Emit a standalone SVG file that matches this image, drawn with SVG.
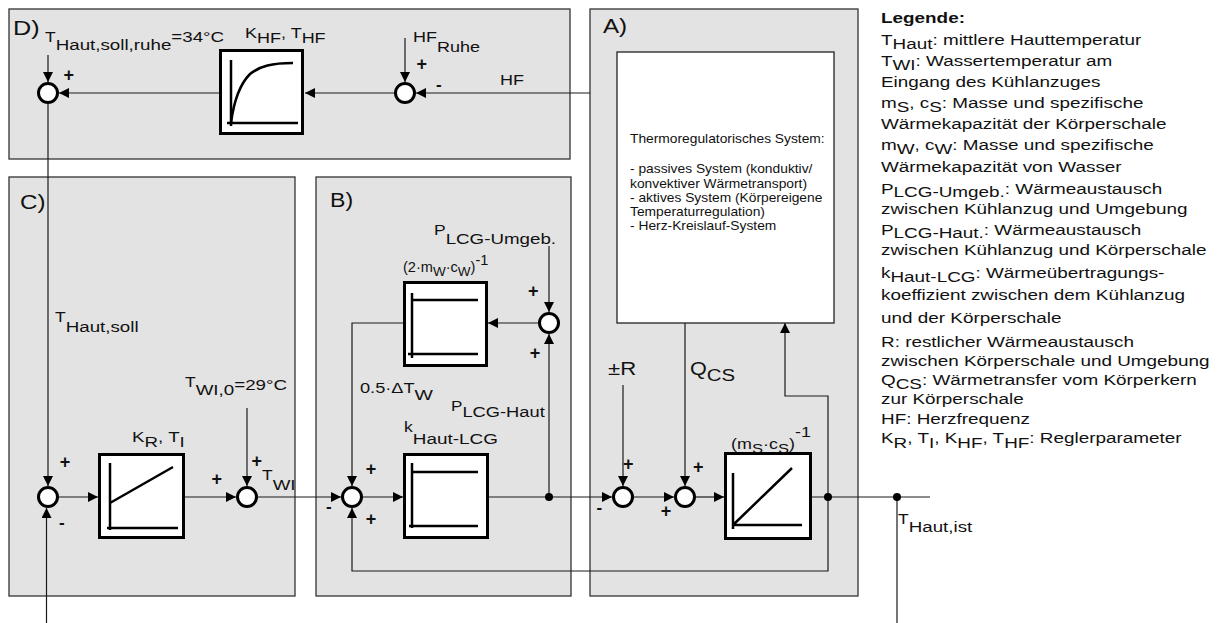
<svg xmlns="http://www.w3.org/2000/svg" width="1219" height="623" viewBox="0 0 1219 623">
<style>
text{font-family:"Liberation Sans",Arial,Helvetica,sans-serif;fill:#111}
.panel{fill:#e3e3e3;stroke:#333;stroke-width:1.3}
.inner{fill:#fff;stroke:#222;stroke-width:1.3}
.blk{fill:#fff;stroke:#000;stroke-width:3}
.gr{fill:none;stroke:#000;stroke-width:2.5}
.sum{fill:#fff;stroke:#000;stroke-width:3}
.ln{fill:none;stroke:#1a1a1a;stroke-width:1.2}
.ar{marker-end:url(#ah)}
.dot{fill:#000}
.pl{font-size:21px}
.lb{font-size:15px}
.big{font-size:18px}
.fr{font-size:14px}
.pm{font-size:18px;font-weight:bold}
.mn{font-size:17px;font-weight:bold}
.lg{font-size:15px}
.in{font-size:12px}
</style>
<defs>
<marker id="ah" markerUnits="userSpaceOnUse" markerWidth="10" markerHeight="10" refX="10" refY="5" orient="auto">
<path d="M0,0 L10,5 L0,10 z" fill="#000"/>
</marker>
</defs>
<rect width="1219" height="623" fill="#fff"/>

<g id="panelD">
<rect class="panel" x="9" y="9" width="561" height="150"/>
<text class="pl" transform="translate(13,35) scale(1.2,1)">D)</text>
</g>
<g id="panelA">
<rect class="panel" x="590" y="9" width="268" height="587"/>
<text class="pl" transform="translate(603,33) scale(1.15,1)">A)</text>
</g>
<g id="panelC">
<rect class="panel" x="9" y="177" width="286" height="419"/>
<text class="pl" transform="translate(20,209) scale(1.15,1)">C)</text>
</g>
<g id="panelB">
<rect class="panel" x="316" y="177" width="255" height="419"/>
<text class="pl" transform="translate(330,207) scale(1.1,1)">B)</text>
</g>

<g id="connectors">
<path class="ln ar" d="M48,55 V82"/>
<path class="ln ar" d="M219,93 H59"/>
<path class="ln ar" d="M395,93 H305"/>
<path class="ln ar" d="M405,38 V82"/>
<path class="ln ar" d="M590,93 H416"/>
<path class="ln ar" d="M48,104 V486"/>
<path class="ln ar" d="M59,497 H98"/>
<path class="ln ar" d="M185,497 H236"/>
<path class="ln ar" d="M247,408 V486"/>
<path class="ln ar" d="M258,497 H341"/>
<path class="ln ar" d="M46.5,623 V508"/>
<path class="ln ar" d="M363,497 H403"/>
<path class="ln ar" d="M489,497 H612"/>
<path class="ln ar" d="M549,497 V334"/>
<path class="ln ar" d="M549,246 V312"/>
<path class="ln ar" d="M538,323 H488"/>
<path class="ln ar" d="M403,323 H352 V486"/>
<path class="ln ar" d="M828,497 V571 H352 V508"/>
<path class="ln ar" d="M623,385 V486"/>
<path class="ln ar" d="M634,497 H674"/>
<path class="ln ar" d="M685,323 V486"/>
<path class="ln ar" d="M696,497 H724"/>
<path class="ln" d="M812,497 H930"/>
<path class="ln ar" d="M828,497 V396 H785 V323"/>
<path class="ln" d="M897,497 V623"/>
<circle class="dot" cx="549" cy="497" r="4"/>
<circle class="dot" cx="828" cy="497" r="4"/>
<circle class="dot" cx="897" cy="497" r="4"/>
</g>

<g id="sumD1">
<circle class="sum" cx="48" cy="93" r="9.5"/>
<text class="pm" x="63.4" y="80.5">+</text>
<text class="lb" transform="translate(45,42) scale(1.25,1)"><tspan font-size="14">T</tspan><tspan dy="8">Haut,soll,ruhe</tspan><tspan dy="-8">=34°C</tspan></text>
</g>
<g id="blockD">
<rect class="blk" x="220.5" y="50.5" width="82" height="83"/>
<path class="gr" d="M231,60 V126 M227,123 H298"/>
<path class="gr" d="M231,123 C234,100 240,84 250,74 C260,66 272,63 293,63"/>
<text class="lb" transform="translate(245,38) scale(1.2,1)">K<tspan dy="5">HF</tspan><tspan dy="-5">, T</tspan><tspan dy="5">HF</tspan></text>
</g>
<g id="sumD2">
<circle class="sum" cx="405" cy="93" r="9.5"/>
<text class="pm" x="416.4" y="69.9">+</text>
<text class="mn" x="436" y="89.6">-</text>
<text class="lb" transform="translate(413,42) scale(1.2,1)">HF<tspan dy="10">Ruhe</tspan></text>
<text class="lb" transform="translate(500,85) scale(1.2,1)">HF</text>
</g>

<g id="sumC1">
<circle class="sum" cx="48" cy="497" r="9.5"/>
<text class="pm" x="59.7" y="467.9">+</text>
<text class="mn" x="59" y="528">-</text>
<text class="lb" transform="translate(55,322) scale(1.25,1)"><tspan font-size="14">T</tspan><tspan dy="10">Haut,soll</tspan></text>
</g>
<g id="blockKR">
<rect class="blk" x="99.5" y="454.5" width="84" height="83"/>
<path class="gr" d="M110,463 V530 M107,528 H178 M110,503 L173,467"/>
<text class="lb" transform="translate(132,442) scale(1.25,1)">K<tspan dy="5">R</tspan><tspan dy="-5">, T</tspan><tspan dy="5">I</tspan></text>
</g>
<g id="sumC2">
<circle class="sum" cx="247" cy="497" r="9.5"/>
<text class="pm" x="211.4" y="484.9">+</text>
<text class="pm" x="251.4" y="466.5">+</text>
<text class="lb" transform="translate(262,480) scale(1.25,1)"><tspan font-size="14">T</tspan><tspan dy="10">WI</tspan></text>
<text class="lb" transform="translate(185,387) scale(1.25,1)"><tspan font-size="14">T</tspan><tspan dy="8">WI,0</tspan><tspan dy="-5">=29°C</tspan></text>
</g>

<g id="sumB1">
<circle class="sum" cx="352" cy="497" r="9.5"/>
<text class="pm" x="365.7" y="474.9">+</text>
<text class="mn" x="326" y="512">-</text>
<text class="pm" x="365.7" y="524.9">+</text>
</g>
<g id="blockK">
<rect class="blk" x="404.5" y="454.5" width="83" height="83"/>
<path class="gr" d="M412,463 V528 M412,472 H478 M409,526 H478"/>
<text class="lb" transform="translate(404,432) scale(1.26,1)"><tspan font-size="14">k</tspan><tspan dy="12">Haut-LCG</tspan></text>
<text class="lb" transform="translate(451,411) scale(1.22,1)"><tspan font-size="14">P</tspan><tspan dy="6">LCG-Haut</tspan></text>
</g>
<g id="sumB2">
<circle class="sum" cx="549" cy="323" r="9.5"/>
<text class="pm" x="528" y="296.5">+</text>
<text class="pm" x="529.7" y="359.2">+</text>
<text class="lb" transform="translate(434,235) scale(1.25,1)"><tspan font-size="14">P</tspan><tspan dy="9">LCG-Umgeb.</tspan></text>
</g>
<g id="blockW">
<rect class="blk" x="404.5" y="282.5" width="82" height="83"/>
<path class="gr" d="M412,293 V358 M412,300 H478 M408,354 H478"/>
<text class="fr" transform="translate(403,272) scale(1.04,1)">(2·m<tspan font-size="13" dy="4">W</tspan><tspan dy="-4">·c</tspan><tspan font-size="13" dy="4">W</tspan><tspan dy="-4">)</tspan><tspan dy="-7">-1</tspan></text>
<text class="lb" transform="translate(360,393) scale(1.3,1)"><tspan font-size="14">0.5·ΔT</tspan><tspan dy="7">W</tspan></text>
</g>

<g id="blockA">
<rect class="inner" x="617" y="52" width="217" height="271"/>
<g transform="translate(630,0) scale(1.15,1)">
<text class="in" x="0" y="143">Thermoregulatorisches System:</text>
<text class="in" x="0" y="173.3">- passives System (konduktiv/</text>
<text class="in" x="0" y="187.7">konvektiver Wärmetransport)</text>
<text class="in" x="0" y="201.7">- aktives System (Körpereigene</text>
<text class="in" x="0" y="215.7">Temperaturregulation)</text>
<text class="in" x="0" y="230">- Herz-Kreislauf-System</text>
</g>
</g>
<g id="sumA1">
<circle class="sum" cx="623" cy="497" r="9.5"/>
<text class="pm" x="623" y="469.9">+</text>
<text class="mn" x="596.5" y="513">-</text>
<text class="big" transform="translate(608,375) scale(1.23,1)">±R</text>
</g>
<g id="sumA2">
<circle class="sum" cx="685" cy="497" r="9.5"/>
<text class="pm" x="693" y="473.2">+</text>
<text class="pm" x="660.7" y="516.5">+</text>
<text class="big" transform="translate(690,375) scale(1.2,1)">Q<tspan font-size="17" dy="6">CS</tspan></text>
</g>
<g id="blockMS">
<rect class="blk" x="725.5" y="453.5" width="85" height="85"/>
<path class="gr" d="M733,473 V529 M733,525 H802 M733,525 L792,468"/>
<text class="fr" transform="translate(731,449) scale(1.28,1)">(m<tspan font-size="13" dy="4">S</tspan><tspan dy="-4">·c</tspan><tspan font-size="13" dy="4">S</tspan><tspan dy="-4">)</tspan><tspan dy="-12">-1</tspan></text>
</g>
<g id="output">
<text class="lb" transform="translate(898,524) scale(1.25,1)"><tspan font-size="14">T</tspan><tspan dy="8">Haut,ist</tspan></text>
</g>

<g id="legend" transform="translate(881,0) scale(1.26,1)">
<text class="lg" x="0" y="23" font-weight="bold">Legende:</text>
<text class="lg" x="0" y="45">T<tspan dy="4">Haut</tspan><tspan dy="-4">: mittlere Hauttemperatur</tspan></text>
<text class="lg" x="0" y="66">T<tspan dy="4">WI</tspan><tspan dy="-4">: Wassertemperatur am</tspan></text>
<text class="lg" x="0" y="87">Eingang des Kühlanzuges</text>
<text class="lg" x="0" y="108">m<tspan dy="4">S</tspan><tspan dy="-4">, c</tspan><tspan dy="4">S</tspan><tspan dy="-4">: Masse und spezifische</tspan></text>
<text class="lg" x="0" y="129">Wärmekapazität der Körperschale</text>
<text class="lg" x="0" y="150">m<tspan dy="4">W</tspan><tspan dy="-4">, c</tspan><tspan dy="4">W</tspan><tspan dy="-4">: Masse und spezifische</tspan></text>
<text class="lg" x="0" y="172">Wärmekapazität von Wasser</text>
<text class="lg" x="0" y="194">P<tspan dy="3">LCG-Umgeb.</tspan><tspan dy="-3">: Wärmeaustausch</tspan></text>
<text class="lg" x="0" y="214">zwischen Kühlanzug und Umgebung</text>
<text class="lg" x="0" y="235">P<tspan dy="3">LCG-Haut.</tspan><tspan dy="-3">: Wärmeaustausch</tspan></text>
<text class="lg" x="0" y="255">zwischen Kühlanzug und Körperschale</text>
<text class="lg" x="0" y="278">k<tspan dy="4">Haut-LCG</tspan><tspan dy="-4">: Wärmeübertragungs-</tspan></text>
<text class="lg" x="0" y="300">koeffizient zwischen dem Kühlanzug</text>
<text class="lg" x="0" y="323">und der Körperschale</text>
<text class="lg" x="0" y="347">R: restlicher Wärmeaustausch</text>
<text class="lg" x="0" y="366">zwischen Körperschale und Umgebung</text>
<text class="lg" x="0" y="385">Q<tspan dy="4">CS</tspan><tspan dy="-4">: Wärmetransfer vom Körperkern</tspan></text>
<text class="lg" x="0" y="404">zur Körperschale</text>
<text class="lg" x="0" y="424">HF: Herzfrequenz</text>
<text class="lg" x="0" y="443">K<tspan dy="5">R</tspan><tspan dy="-5">, T</tspan><tspan dy="5">I</tspan><tspan dy="-5">, K</tspan><tspan dy="5">HF</tspan><tspan dy="-5">, T</tspan><tspan dy="5">HF</tspan><tspan dy="-5">: Reglerparameter</tspan></text>
</g>
</svg>
